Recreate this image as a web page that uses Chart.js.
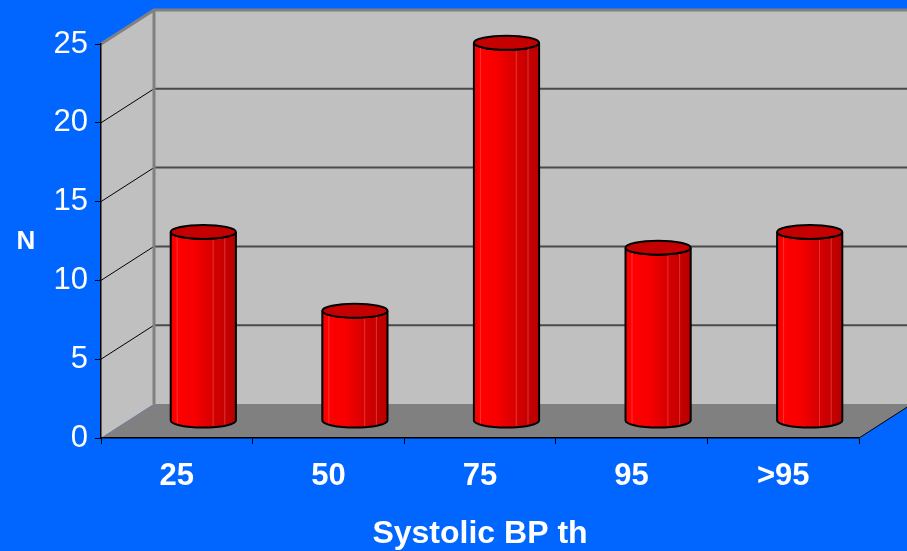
<!DOCTYPE html>
<html>
<head>
<meta charset="utf-8">
<script src="https://cdn.jsdelivr.net/npm/chart.js@4.4.0/dist/chart.umd.min.js"></script>
<style>
  html, body { margin: 0; padding: 0; background: #0066FF; }
  #wrap { width: 907px; height: 551px; }
</style>
</head>
<body>
<div id="wrap"><canvas id="c" width="907" height="551"></canvas></div>
<script>
// Percentile groups and number of subjects in each
const categories = ['25', '50', '75', '95', '>95'];
const counts = [12, 7, 24, 11, 12];
const yTicks = [0, 5, 10, 15, 20, 25];
const xTitle = 'Systolic BP th';
const yTitle = 'N';

// 3D box depth (back wall offset from the front plane)
const DX = 53, DY = -34;
const FONT = "'Liberation Sans', Arial, sans-serif";

const box3d = {
  id: 'box3d',
  beforeDraw(chart) {
    const { ctx, chartArea: a, scales: { y } } = chart;
    const L = a.left, R = a.right, T = a.top, B = a.bottom;
    ctx.save();
    ctx.fillStyle = '#0066FF';
    ctx.fillRect(0, 0, chart.width, chart.height);

    // back wall and left side wall
    ctx.fillStyle = '#C0C0C0';
    ctx.fillRect(L + DX, T + DY, R - L, B - T);
    ctx.beginPath();
    ctx.moveTo(L, T); ctx.lineTo(L + DX, T + DY);
    ctx.lineTo(L + DX, B + DY); ctx.lineTo(L, B);
    ctx.closePath(); ctx.fill();

    // floor
    ctx.fillStyle = '#808080';
    ctx.beginPath();
    ctx.moveTo(L, B); ctx.lineTo(R, B);
    ctx.lineTo(R + DX, B + DY); ctx.lineTo(L + DX, B + DY);
    ctx.closePath(); ctx.fill();
    ctx.strokeStyle = '#000'; ctx.lineWidth = 1;
    ctx.beginPath(); ctx.moveTo(R, B); ctx.lineTo(R + DX, B + DY); ctx.stroke();

    // gridlines on the walls
    yTicks.forEach(v => {
      if (v === yTicks[0] || v === yTicks[yTicks.length - 1]) return;
      const py = y.getPixelForValue(v);
      ctx.strokeStyle = '#4a4a4a'; ctx.lineWidth = 2;
      ctx.beginPath(); ctx.moveTo(L + DX, py + DY); ctx.lineTo(R + DX, py + DY); ctx.stroke();
      ctx.strokeStyle = '#000'; ctx.lineWidth = 1;
      ctx.beginPath(); ctx.moveTo(L, py); ctx.lineTo(L + DX, py + DY); ctx.stroke();
    });

    // wall edges
    ctx.strokeStyle = '#808080'; ctx.lineWidth = 3;
    ctx.beginPath();
    ctx.moveTo(L, T); ctx.lineTo(L + DX, T + DY); ctx.lineTo(R + DX, T + DY);
    ctx.moveTo(L + DX, T + DY); ctx.lineTo(L + DX, B + DY);
    ctx.stroke();
    ctx.restore();
  },
  afterDraw(chart) {
    const { ctx } = chart;
    ctx.save();
    ctx.fillStyle = '#fff';
    ctx.font = 'bold 26px ' + FONT;
    ctx.textAlign = 'center';
    ctx.textBaseline = 'middle';
    ctx.fillText(yTitle, 26, 242);
    ctx.restore();
  }
};

// cylinders standing at mid depth of the box
const cylinders = {
  id: 'cylinders',
  afterDatasetsDraw(chart) {
    const { ctx } = chart;
    const meta = chart.getDatasetMeta(0);
    meta.data.forEach(bar => {
      const { x, y, base, width } = bar.getProps(['x', 'y', 'base', 'width'], true);
      const cx = x + DX / 2, rx = width / 2, ry = 7;
      const l = cx - rx, r = cx + rx;
      const ty = y + DY / 2, by = base + DY / 2;
      ctx.save();
      const body = new Path2D();
      body.moveTo(l, ty);
      body.lineTo(l, by);
      body.ellipse(cx, by, rx, ry, 0, Math.PI, 0, true);
      body.lineTo(r, ty);
      body.ellipse(cx, ty, rx, ry, 0, 0, Math.PI, false);
      body.closePath();
      const g = ctx.createLinearGradient(l, 0, r, 0);
      g.addColorStop(0, '#F00000');
      g.addColorStop(0.08, '#FF0000');
      g.addColorStop(0.35, '#F80000');
      g.addColorStop(0.55, '#E00000');
      g.addColorStop(0.75, '#CC0000');
      g.addColorStop(1, '#B80000');
      ctx.fillStyle = g;
      ctx.fill(body);
      ctx.save();
      ctx.clip(body);
      ctx.strokeStyle = 'rgba(255,110,110,0.45)';
      ctx.lineWidth = 1;
      [0.1, 0.65, 0.83].forEach(f => {
        ctx.beginPath();
        ctx.moveTo(l + f * width, ty - ry);
        ctx.lineTo(l + f * width, by + ry);
        ctx.stroke();
      });
      ctx.restore();
      ctx.strokeStyle = '#000';
      ctx.lineWidth = 2;
      ctx.stroke(body);
      ctx.beginPath();
      ctx.ellipse(cx, ty, rx, ry, 0, 0, Math.PI * 2);
      ctx.fillStyle = '#C40000';
      ctx.fill();
      ctx.stroke();
      ctx.restore();
    });
  }
};

new Chart(document.getElementById('c'), {
  type: 'bar',
  data: {
    labels: categories,
    datasets: [{
      label: yTitle,
      data: counts,
      backgroundColor: 'rgba(0,0,0,0)',
      borderWidth: 0,
      categoryPercentage: 1,
      barPercentage: 0.43
    }]
  },
  options: {
    responsive: false,
    animation: false,
    devicePixelRatio: 1,
    layout: { padding: { top: 44, right: 48, left: 0, bottom: 0 } },
    plugins: { legend: { display: false }, tooltip: { enabled: false } },
    scales: {
      x: {
        afterFit(s) { s.height = 113; },
        grid: { offset: true, drawOnChartArea: false, tickLength: 6, color: '#000' },
        border: { color: '#000', width: 1.5 },
        ticks: { color: '#fff', padding: 14, font: { family: FONT, size: 31, weight: 'bold' } },
        title: {
          display: true, text: xTitle, color: '#fff',
          font: { family: FONT, size: 32, weight: 'bold' },
          padding: { top: 0, bottom: -2 }
        }
      },
      y: {
        min: yTicks[0],
        max: yTicks[yTicks.length - 1],
        afterFit(s) { s.width = 101; },
        afterBuildTicks(s) { s.ticks = yTicks.map(v => ({ value: v })); },
        grid: { drawOnChartArea: false, tickLength: 6, color: '#000' },
        border: { color: '#000', width: 1.5 },
        ticks: { color: '#fff', padding: 7, font: { family: FONT, size: 31 } }
      }
    }
  },
  plugins: [box3d, cylinders]
});
</script>
</body>
</html>
